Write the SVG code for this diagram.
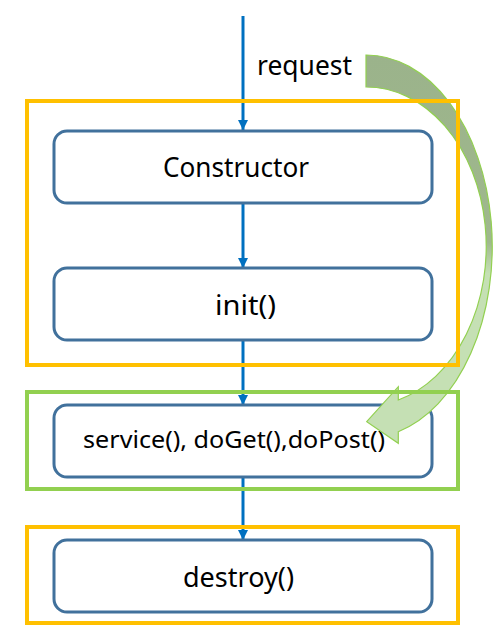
<svg xmlns="http://www.w3.org/2000/svg" width="502" height="644" viewBox="0 0 502 644">
<style>
.node{fill:#ffffff;stroke:#41719c;stroke-width:3}
.lbl{font-family:"Noto Sans","Open Sans",sans-serif;fill:#000000}
.frame{fill:none;stroke-width:4}
.conn{stroke:#0070c0;stroke-width:3;fill:none}
</style>
<defs>
<marker id="ah" viewBox="0 0 10 10" refX="10" refY="5" markerWidth="3.4" markerHeight="3.4" markerUnits="strokeWidth" orient="auto">
<path d="M0,0 L10,5 L0,10 Z" fill="#0070c0"/>
</marker>
<linearGradient id="cg" x1="0" y1="55" x2="0" y2="445" gradientUnits="userSpaceOnUse">
<stop offset="0" stop-color="#9bb38b"/>
<stop offset="0.48" stop-color="#9fb88d"/>
<stop offset="0.56" stop-color="#c5e0b4"/>
<stop offset="1" stop-color="#c5e0b4"/>
</linearGradient>
</defs>
<rect width="502" height="644" fill="#ffffff"/>
<g id="connectors">
<line class="conn" x1="243" y1="16" x2="243" y2="130" marker-end="url(#ah)"/>
<line class="conn" x1="243" y1="203" x2="243" y2="268" marker-end="url(#ah)"/>
<line class="conn" x1="243" y1="340" x2="243" y2="405" marker-end="url(#ah)"/>
<line class="conn" x1="243" y1="477" x2="243" y2="540" marker-end="url(#ah)"/>
</g>
<text id="request" class="lbl" x="257" y="75" font-size="27" textLength="95" lengthAdjust="spacingAndGlyphs">request</text>
<g id="constructor">
<rect class="node" x="54" y="131" width="378" height="72" rx="13"/>
<text class="lbl" x="163" y="177" font-size="28" textLength="146" lengthAdjust="spacingAndGlyphs">Constructor</text>
</g>
<g id="init">
<rect class="node" x="54" y="268" width="378" height="72" rx="13"/>
<text class="lbl" x="215" y="315" font-size="28" textLength="61" lengthAdjust="spacingAndGlyphs">init()</text>
</g>
<g id="service">
<rect class="node" x="54" y="405" width="378" height="72" rx="13"/>
<text class="lbl" x="83" y="448" font-size="24" textLength="302" lengthAdjust="spacingAndGlyphs">service(), doGet(),doPost()</text>
</g>
<g id="destroy">
<rect class="node" x="54" y="540" width="378" height="72" rx="13"/>
<text class="lbl" x="183" y="587" font-size="28" textLength="111" lengthAdjust="spacingAndGlyphs">destroy()</text>
</g>
<g id="curved-arrow">
<path d="M366,55 A126,191.5 0 0 1 398.3,431.7 L398.3,443.3 L366.7,421.7 L398.3,386.7 L398.3,400 A120,159.4 0 0 0 366,87 Z" fill="url(#cg)" stroke="#92d050" stroke-width="1.2" stroke-linejoin="miter"/>
</g>
<g id="init-phase">
<rect class="frame" x="27" y="101" width="431" height="264" stroke="#ffc000"/>
</g>
<g id="service-phase">
<rect class="frame" x="27" y="392" width="431" height="97" stroke="#92d050"/>
</g>
<g id="destroy-phase">
<rect class="frame" x="27" y="527" width="431" height="96" stroke="#ffc000"/>
</g>
</svg>
